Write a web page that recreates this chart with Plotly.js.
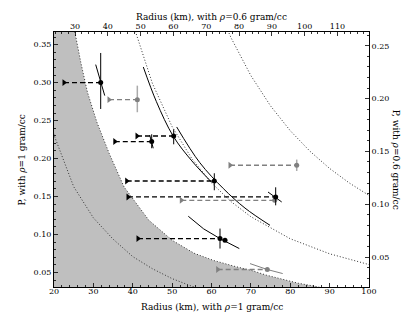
<!DOCTYPE html>
<html><head><meta charset="utf-8">
<script src="https://cdn.plot.ly/plotly-3.0.1.min.js"></script>
<style>html,body{margin:0;padding:0;background:#fff}</style>
</head><body><div id="chart" style="width:415px;height:312px"></div>
<script>
// ---- data ----
// grey (forbidden) region boundary, rho=1 scale
const boundR = [20, 22, 25.3, 26.8, 28.5, 30.9, 34, 37.8, 44.1, 50, 55.6, 60.5, 66, 70, 74, 77.4, 82, 86, 89, 92];
const boundP = [0.59, 0.485, 0.3666, 0.3267, 0.2872, 0.2478, 0.207, 0.1626, 0.1188, 0.0925, 0.0754, 0.066, 0.058, 0.053, 0.0465, 0.0423, 0.036, 0.0322, 0.029, 0.027];
// dotted reference curves
const innerR = [19, 20, 25, 30, 35, 40, 45, 50, 55, 57];
const innerP = [0.256, 0.231, 0.163, 0.122, 0.094, 0.071, 0.055, 0.042, 0.032, 0.029];
const mid1R = [39, 40, 45, 50, 55, 60, 65, 70, 80, 90, 100];
const mid1P = [0.398, 0.3781, 0.2988, 0.242, 0.2, 0.168, 0.1432, 0.1235, 0.0945, 0.0747, 0.0605];
const mid2R = [62, 65, 70, 75, 80, 85, 90, 95, 100];
const mid2P = [0.3941, 0.3586, 0.3092, 0.2693, 0.2367, 0.2097, 0.187, 0.1679, 0.1515];
// solid model curves
const curveAR = [42.68, 46, 50.3, 55, 60.05];
const curveAP = [0.3205, 0.275, 0.2293, 0.197, 0.1688];
const curveBR = [51.16, 57, 63, 68.5, 74.86];
const curveBP = [0.2416, 0.1948, 0.1606, 0.1349, 0.1122];
// black measurements
const blkR    = [31.86, 44.81, 50.4, 60.71, 76.3, 62.16];
const blkP    = [0.300, 0.2224, 0.2297, 0.1705, 0.1495, 0.0947];
const blkTriR = [22.54, 35.44, 41.08, 38.46, 38.8, 41.33];
const blkHi   = [0.339, 0.232, 0.2385, 0.1807, 0.1622, 0.1079];
const blkLo   = [0.2653, 0.2136, 0.2188, 0.1583, 0.1385, 0.0816];
const extraR = [63.43];
const extraP = [0.0925];
// grey measurements
const grR    = [41.16, 81.64, 76.05, 74.17];
const grP    = [0.2776, 0.1912, 0.1451, 0.054];
const grTriR = [33.97, 64.7, 52.33, 61.57];
const grHi   = [0.296, 0.1987, 0.1451, 0.054];
const grLo   = [0.261, 0.1837, 0.1451, 0.054];
// tilted segments through points
const segs = [
  {R: [30.59, 32.88], P: [0.3237, 0.2829], c: '#000'},
  {R: [44.3, 45.2], P: [0.231, 0.2136], c: '#000'},
  {R: [74.35, 77.83], P: [0.156, 0.1429], c: '#000'},
  {R: [54.1, 58, 62.16, 67.06], P: [0.1241, 0.1075, 0.0947, 0.0816], c: '#000'},
  {R: [69.78, 74.17, 78.08], P: [0.0618, 0.054, 0.0487], c: '#808080'}
];

const FONT = 'DejaVu Serif';
const traces = [];
traces.push({x: boundR, y: boundP, mode: 'lines', fill: 'tozeroy', fillcolor: '#bfbfbf',
  line: {width: 0, color: '#bfbfbf'}, hoverinfo: 'skip'});
traces.push({x: boundR.slice(2), y: boundP.slice(2), mode: 'lines', line: {color: '#333', width: 1, dash: '1px,2px'}});
[[innerR, innerP], [mid1R, mid1P], [mid2R, mid2P]].forEach(([r, p]) => {
  traces.push({x: r, y: p, mode: 'lines', line: {color: '#333', width: 1, dash: '1px,2px'}});
});
[[curveAR, curveAP], [curveBR, curveBP]].forEach(([r, p]) => {
  traces.push({x: r, y: p, mode: 'lines', line: {color: '#000', width: 1, shape: 'spline'}});
});
// dashed arrows
grR.forEach((r, i) => {
  traces.push({x: [grTriR[i], r], y: [grP[i], grP[i]], mode: 'lines', line: {color: '#808080', width: 1.3, dash: '5px,3px'}});
});
blkR.forEach((r, i) => {
  traces.push({x: [blkTriR[i], r], y: [blkP[i], blkP[i]], mode: 'lines', line: {color: '#000', width: 1.3, dash: '5px,3px'}});
});
segs.forEach(s => traces.push({x: s.R, y: s.P, mode: 'lines', line: {color: s.c, width: 1}}));
// triangles
traces.push({x: grTriR, y: grP, mode: 'markers', marker: {symbol: 'triangle-right', size: 6, color: '#808080'}});
traces.push({x: blkTriR, y: blkP, mode: 'markers', marker: {symbol: 'triangle-right', size: 6, color: '#000'}});
// points
traces.push({x: grR, y: grP, mode: 'markers', marker: {size: 5, color: '#808080'},
  error_y: {type: 'data', symmetric: false, array: grHi.map((h, i) => h - grP[i]), arrayminus: grLo.map((l, i) => grP[i] - l),
    width: 0, thickness: 1.5, color: '#aaaaaa'}});
traces.push({x: extraR, y: extraP, mode: 'markers', marker: {size: 5, color: '#000'}});
traces.push({x: blkR, y: blkP, mode: 'markers', marker: {size: 5, color: '#000'},
  error_y: {type: 'data', symmetric: false, array: blkHi.map((h, i) => h - blkP[i]), arrayminus: blkLo.map((l, i) => blkP[i] - l),
    width: 0, thickness: 1, color: '#000'}});
traces.push({x: [null], y: [null], xaxis: 'x2', yaxis: 'y2', mode: 'markers', hoverinfo: 'skip'});

const axBase = {ticks: 'inside', ticklen: 4, tickwidth: 0.8, tickcolor: '#000', showline: true, linecolor: '#000',
  linewidth: 1, showgrid: false, zeroline: false, tickfont: {family: FONT, size: 8, color: '#000'}};

const layout = {
  width: 415, height: 312, showlegend: false,
  margin: {l: 54, r: 46, t: 32, b: 25, pad: 0},
  paper_bgcolor: '#fff', plot_bgcolor: '#fff',
  xaxis: Object.assign({}, axBase, {range: [20, 100], dtick: 10, tick0: 0, ticklabelstandoff: -4,
    minor: {dtick: 2, ticks: 'inside', ticklen: 2, tickcolor: '#000'}}),
  xaxis2: Object.assign({}, axBase, {range: [23.6, 119.6], dtick: 10, tick0: 0, side: 'top', overlaying: 'x', anchor: 'y2',
    ticklabelstandoff: -1, minor: {dtick: 2, ticks: 'inside', ticklen: 2, tickcolor: '#000'}}),
  yaxis: Object.assign({}, axBase, {range: [0.031, 0.3666], dtick: 0.05, tick0: 0, tickformat: '.2f',
    minor: {dtick: 0.01, ticks: 'inside', ticklen: 2, tickcolor: '#000'}}),
  yaxis2: Object.assign({}, axBase, {range: [0.0216, 0.2631], dtick: 0.05, tick0: 0, tickformat: '.2f', side: 'right',
    overlaying: 'y', anchor: 'x2', minor: {dtick: 0.01, ticks: 'inside', ticklen: 2, tickcolor: '#000'}}),
  annotations: [
    {text: 'Radius (km), with <i>ρ</i>=1 gram/cc', xref: 'paper', yref: 'paper', x: 0.5, y: -0.08, showarrow: false,
      xanchor: 'center', yanchor: 'middle', font: {family: FONT, size: 9, color: '#000'}},
    {text: 'Radius (km), with <i>ρ</i>=0.6 gram/cc', xref: 'paper', yref: 'paper', x: 0.5, y: 1.06, showarrow: false,
      xanchor: 'center', yanchor: 'middle', font: {family: FONT, size: 9, color: '#000'}},
    {text: 'P, with <i>ρ</i>=1 gram/cc', xref: 'paper', yref: 'paper', x: -0.1016, y: 0.5, showarrow: false, textangle: -90,
      xanchor: 'center', yanchor: 'middle', font: {family: FONT, size: 9, color: '#000'}},
    {text: 'P, with <i>ρ</i>=0.6 gram/cc', xref: 'paper', yref: 'paper', x: 1.088, y: 0.5, showarrow: false, textangle: 90,
      xanchor: 'center', yanchor: 'middle', font: {family: FONT, size: 9, color: '#000'}}
  ]
};
Plotly.newPlot('chart', traces, layout, {displayModeBar: false, staticPlot: true});
</script></body></html>
